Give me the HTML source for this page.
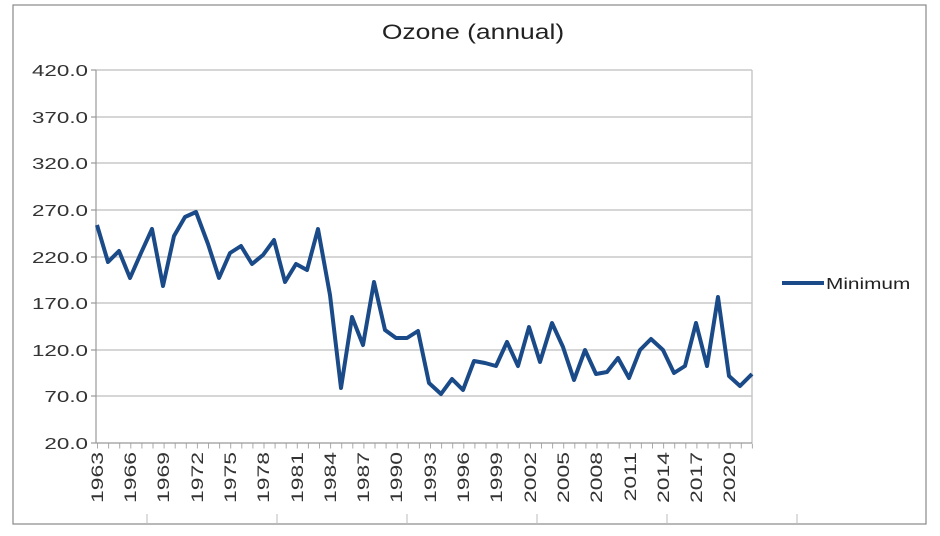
<!DOCTYPE html>
<html><head><style>body{margin:0;background:#fff}svg{display:block}</style></head><body>
<svg width="940" height="536" xmlns="http://www.w3.org/2000/svg" font-family="Liberation Sans, sans-serif">
<rect x="0" y="0" width="940" height="536" fill="#fff"/>
<rect x="13" y="5" width="913" height="519" fill="none" stroke="#888" stroke-width="1.2"/>
<g stroke="#c8c8c8" stroke-width="1.5" fill="none">
<line x1="96" y1="70" x2="752" y2="70"/><line x1="96" y1="117" x2="752" y2="117"/>
<line x1="96" y1="163" x2="752" y2="163"/><line x1="96" y1="210" x2="752" y2="210"/>
<line x1="96" y1="257" x2="752" y2="257"/><line x1="96" y1="303" x2="752" y2="303"/>
<line x1="96" y1="350" x2="752" y2="350"/><line x1="96" y1="396" x2="752" y2="396"/>
<line x1="752" y1="70" x2="752" y2="443"/>
</g>
<g stroke="#999" stroke-width="1.2">
<line x1="96" y1="70" x2="96" y2="443"/><line x1="96" y1="443" x2="752" y2="443"/>
<line x1="91" y1="70" x2="96" y2="70"/><line x1="91" y1="117" x2="96" y2="117"/><line x1="91" y1="163" x2="96" y2="163"/><line x1="91" y1="210" x2="96" y2="210"/><line x1="91" y1="257" x2="96" y2="257"/><line x1="91" y1="303" x2="96" y2="303"/><line x1="91" y1="350" x2="96" y2="350"/><line x1="91" y1="396" x2="96" y2="396"/><line x1="91" y1="443" x2="96" y2="443"/>
</g>
<g stroke="#aaa" stroke-width="1" stroke-dasharray="1 10.1" >
<line x1="97" y1="446" x2="753" y2="446" stroke-width="5"/>
</g>
<g font-size="16" fill="#333" text-anchor="end">
<text transform="translate(88,76) scale(1.4,1)">420.0</text>
<text transform="translate(88,123) scale(1.4,1)">370.0</text>
<text transform="translate(88,169) scale(1.4,1)">320.0</text>
<text transform="translate(88,216) scale(1.4,1)">270.0</text>
<text transform="translate(88,263) scale(1.4,1)">220.0</text>
<text transform="translate(88,309) scale(1.4,1)">170.0</text>
<text transform="translate(88,356) scale(1.4,1)">120.0</text>
<text transform="translate(88,402) scale(1.4,1)">70.0</text>
<text transform="translate(88,449) scale(1.4,1)">20.0</text>
</g>
<text transform="translate(473,39) scale(1.26,1)" font-size="21" fill="#222" text-anchor="middle">Ozone (annual)</text>
<g font-size="17" fill="#333" text-anchor="end">
<text transform="translate(103,452) rotate(-90) scale(1.35,1)">1963</text>
<text transform="translate(136,452) rotate(-90) scale(1.35,1)">1966</text>
<text transform="translate(169,452) rotate(-90) scale(1.35,1)">1969</text>
<text transform="translate(203,452) rotate(-90) scale(1.35,1)">1972</text>
<text transform="translate(236,452) rotate(-90) scale(1.35,1)">1975</text>
<text transform="translate(269,452) rotate(-90) scale(1.35,1)">1978</text>
<text transform="translate(303,452) rotate(-90) scale(1.35,1)">1981</text>
<text transform="translate(336,452) rotate(-90) scale(1.35,1)">1984</text>
<text transform="translate(369,452) rotate(-90) scale(1.35,1)">1987</text>
<text transform="translate(402,452) rotate(-90) scale(1.35,1)">1990</text>
<text transform="translate(436,452) rotate(-90) scale(1.35,1)">1993</text>
<text transform="translate(469,452) rotate(-90) scale(1.35,1)">1996</text>
<text transform="translate(502,452) rotate(-90) scale(1.35,1)">1999</text>
<text transform="translate(536,452) rotate(-90) scale(1.35,1)">2002</text>
<text transform="translate(569,452) rotate(-90) scale(1.35,1)">2005</text>
<text transform="translate(602,452) rotate(-90) scale(1.35,1)">2008</text>
<text transform="translate(636,452) rotate(-90) scale(1.35,1)">2011</text>
<text transform="translate(669,452) rotate(-90) scale(1.35,1)">2014</text>
<text transform="translate(702,452) rotate(-90) scale(1.35,1)">2017</text>
<text transform="translate(735,452) rotate(-90) scale(1.35,1)">2020</text>
</g>
<g stroke="#bbb" stroke-width="1">
<line x1="147" y1="514" x2="147" y2="524"/><line x1="277" y1="514" x2="277" y2="524"/><line x1="407" y1="514" x2="407" y2="524"/><line x1="537" y1="514" x2="537" y2="524"/><line x1="667" y1="514" x2="667" y2="524"/><line x1="797" y1="514" x2="797" y2="524"/>
</g>
<polyline fill="none" stroke="#1a4a88" stroke-width="4" stroke-linejoin="round" points="97,225 108,262 119,251 130,278 141,253 152,229 163,286 174,236 185,217 196,212 208,244 219,278 230,253 241,246 252,264 263,255 274,240 285,282 296,264 307,270 318,229 330,295 341,388 352,317 363,345 374,282 385,330 396,338 407,338 418,331 429,383 441,394 452,379 463,390 474,361 485,363 496,366 507,342 518,366 529,327 540,362 552,323 563,347 574,380 585,350 596,374 607,372 618,358 629,378 640,350 651,339 663,350 674,373 685,366 696,323 707,366 718,297 729,376 740,386 752,374"/>
<line x1="782" y1="283" x2="824" y2="283" stroke="#1a4a88" stroke-width="4"/>
<text transform="translate(826,289) scale(1.3,1)" font-size="16" fill="#222">Minimum</text>
</svg>
</body></html>
